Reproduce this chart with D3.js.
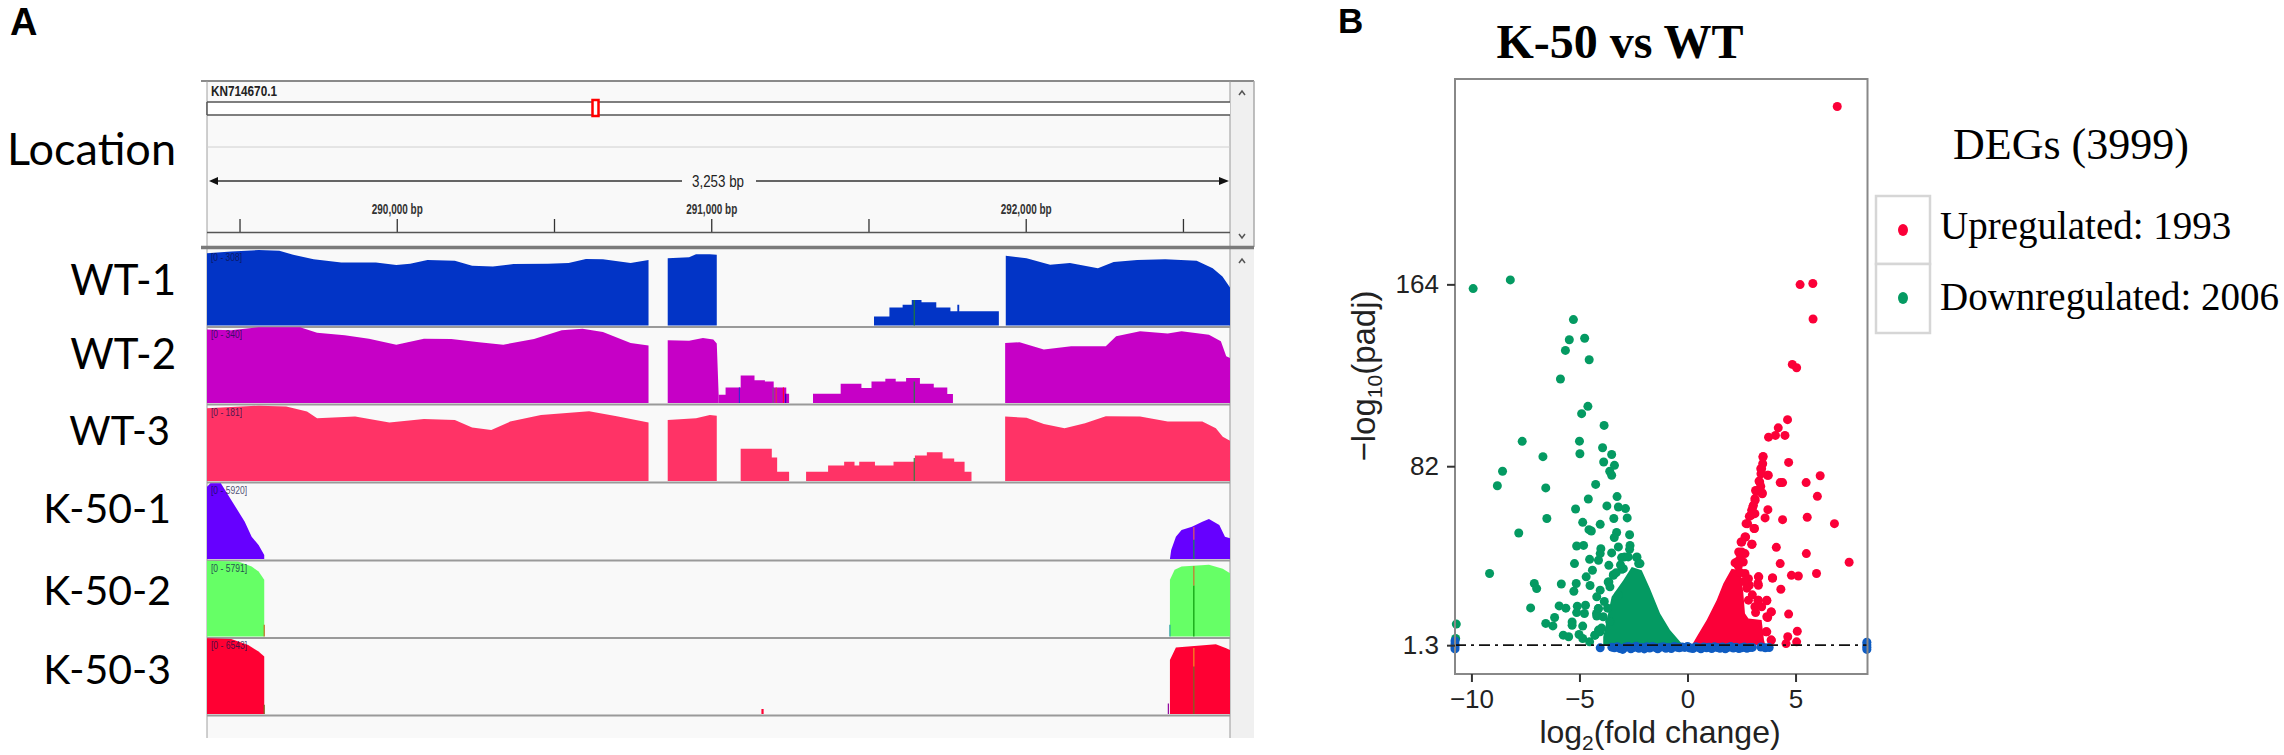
<!DOCTYPE html>
<html><head><meta charset="utf-8">
<style>html,body{margin:0;padding:0;background:#fff}svg{display:block}</style>
<script src="https://cdn.jsdelivr.net/npm/d3@7/dist/d3.min.js"></script>
</head><body><svg id="c" width="2284" height="755"></svg>
<script>
const trackNames=["WT-1","WT-2","WT-3","K-50-1","K-50-2","K-50-3"];
const trackRanges=[308,340,181,5920,5791,6543];
const trackColors=["#0234c6","#c600c6","#ff3366","#6600ff","#66ff66","#ff0033"];
const bpTicks=[289500,290000,290500,291000,291500,292000,292500];
const bpLabelled=[290000,291000,292000];
// coverage blocks: [bp, depth]
const wt1=[
 {step:0,p:[[289395,294],[289472,301],[289559,307],[289625,304],[289669,288],[289734,270],[289822,256],[289932,256],[289997,246],[290041,251],[290096,267],[290183,263],[290238,243],[290304,240],[290370,250],[290479,251],[290545,254],[290600,271],[290654,270],[290742,254],[290799,267]]},
 {step:0,p:[[290860,274],[290928,278],[290950,290],[290994,290],[291016,288]]},
 {step:1,p:[[291516,37],[291565,73],[291607,84],[291636,104],[291667,95],[291714,73],[291759,58],[291781,84],[291787,58],[291913,58]]},
 {step:0,p:[[291935,284],[292001,274],[292076,247],[292139,254],[292228,233],[292278,258],[292353,267],[292442,270],[292542,263],[292593,233],[292624,199],[292648,155]]}];
const wt2=[
 {step:0,p:[[289395,330],[289472,327],[289559,340],[289691,340],[289745,315],[289833,304],[289910,289],[289997,262],[290085,289],[290172,288],[290260,273],[290337,262],[290435,288],[290523,327],[290589,334],[290654,319],[290742,270],[290799,258]]},
 {step:0,p:[[290860,282],[290928,280],[290972,292],[291005,285],[291016,267],[291022,37]]},
 {step:1,p:[[291022,37],[291044,70],[291092,123],[291136,102],[291169,97],[291197,70],[291237,42],[291246,42]]},
 {step:1,p:[[291322,42],[291410,87],[291476,67],[291508,97],[291552,109],[291585,97],[291618,112],[291662,87],[291706,70],[291749,40],[291767,40]]},
 {step:0,p:[[291933,270],[291979,273],[292056,240],[292143,255],[292253,255],[292286,300],[292362,322],[292450,312],[292494,322],[292581,307],[292619,277],[292636,210],[292648,202]]}];
const wt3=[
 {step:0,p:[[289395,174],[289559,180],[289647,178],[289713,166],[289745,150],[289866,154],[289975,140],[290085,148],[290183,146],[290238,128],[290299,122],[290359,142],[290457,158],[290610,167],[290698,155],[290799,140]]},
 {step:0,p:[[290860,146],[290950,150],[290994,158],[291016,156]]},
 {step:1,p:[[291092,77],[291191,56],[291208,22],[291246,22]]},
 {step:1,p:[[291300,22],[291370,37],[291421,46],[291454,37],[291469,46],[291519,37],[291578,46],[291646,61],[291684,69],[291734,54],[291771,46],[291804,22],[291826,22]]},
 {step:0,p:[[291933,154],[292001,151],[292056,136],[292122,126],[292187,138],[292253,155],[292362,154],[292450,142],[292560,142],[292603,126],[292625,106],[292648,96]]}];
const k1=[
 {step:0,p:[[289395,5659],[289406,5920],[289439,5920],[289472,4616],[289515,2921],[289537,1747],[289559,1095],[289577,313]]},
 {step:0,p:[[292457,0],[292461,704],[292476,1747],[292494,2269],[292527,2530],[292560,2921],[292581,3130],[292614,2660],[292632,1747],[292648,1617]]}];
const k2=[
 {step:0,p:[[289395,5791],[289494,5738],[289537,5355],[289559,4973],[289577,4335]]},
 {step:0,p:[[292457,4335],[292472,5100],[292494,5355],[292581,5483],[292625,5177],[292648,4845]]}];
const k3=[
 {step:0,p:[[289395,6543],[289472,6486],[289526,5970],[289559,5396],[289577,4965]]},
 {step:1,p:[[291158,430],[291165,430]]},
 {step:0,p:[[292457,4678],[292476,5740],[292515,5826],[292603,6027],[292636,5683],[292648,5539]]}];
const coverage=[wt1,wt2,wt3,k1,k2,k3];
// mismatch bars: [track, bp, from depth, to depth, colour]
const mismatches=[
 [0,291644,0,104,"#1f7a3a"],[1,291644,0,97,"#2a7a4a"],[1,291088,0,70,"#3a2ad0"],[1,291195,0,70,"#7a5a80"],[1,291205,0,70,"#e03050"],[1,291228,0,70,"#ff0030"],[1,291235,0,42,"#3000c0"],
 [2,291644,0,55,"#3a7a40"],[3,292533,0,1500,"#1a8a50"],[3,292533,1500,2500,"#e06050"],
 [4,292533,0,3900,"#0a9a0a"],[4,292533,3900,5400,"#d07030"],[4,289577,0,900,"#c07020"],[4,292457,0,900,"#20a0a0"],
 [5,292533,0,4100,"#7a6a20"],[5,292533,4100,5700,"#f09020"],[5,289577,0,800,"#7a6a20"],[5,292452,0,900,"#9000a0"]];

const upX=[6.93,5.21,5.80,5.81,4.85,5.05,4.63,4.20,3.75,4.07,4.51,3.49,4.68,3.43,3.70,6.14,3.34,4.29,4.40,5.49,3.18,3.46,6.01,3.13,3.02,3.72,2.94,3.59,4.40,5.54,2.78,3.10,6.80,2.69,2.48,2.99,4.11,2.37,5.50,2.29,4.29,7.48,5.97,4.81,5.13,3.94,3.30,3.26,4.32,3.67,3.26,3.88,3.67,4.68,3.67,5.08,3.88,4.64,4.56,5.05,
 3.50,3.48,3.39,3.40,3.74,3.31,3.39,3.15,3.46,3.12,3.05,2.97,3.12,2.86,2.71,3.08,2.66,2.51,2.97,2.51,2.66,2.43,2.20,2.58,2.66,2.82,3.28,3.28,2.86,3.93,2.82,3.28,3.67,3.12,3.43,3.87,3.71,3.63,3.87,2.35,2.45,2.60,2.75,3.00,3.15];
const upY=[244.2,163.9,164.4,148.4,127.9,126.4,103.0,99.3,95.1,95.9,95.9,86.1,83.7,80.9,77.9,77.7,74.9,74.6,74.6,74.6,70.8,69.6,68.4,66.6,63.6,62.4,59.9,58.7,57.9,59.0,56.1,53.9,56.1,50.1,47.8,46.8,45.4,43.3,42.6,38.8,38.1,38.7,33.6,32.8,32.5,31.6,32.1,29.1,26.5,21.6,21.6,16.3,14.1,15.3,7.3,7.6,3.6,5.1,2.0,2.8,
 86.4,83.1,80.9,78.6,77.9,75.3,72.9,71.1,69.9,67.4,64.4,62.1,60.6,59.4,56.1,53.9,50.1,47.8,46.8,43.3,42.6,40.3,38.4,38.8,33.6,31.3,32.1,28.3,28.3,31.6,21.6,21.6,21.3,18.6,18.6,16.3,13.8,7.3,3.6,37.0,34.0,30.0,27.0,24.0,16.0];
const downX=[-9.92,-8.20,-5.28,-5.47,-4.76,-5.65,-4.55,-5.88,-4.61,-4.90,-3.86,-7.65,-5.00,-3.93,-4.98,-3.51,-6.69,-3.88,-3.38,-8.56,-3.60,-3.51,-8.80,-4.25,-6.56,-3.26,-4.59,-5.18,-3.73,-3.20,-2.87,-6.51,-3.41,-2.79,-4.85,-4.04,-4.56,-4.45,-7.81,-3.28,-3.39,-2.68,-5.13,-4.81,-4.01,-3.20,-2.66,-3.51,-4.04,-2.68,-4.53,-4.12,-2.91,-2.34,-5.23,-3.64,-2.26,-9.16,-4.40,-3.43,-3.04,-4.69,-7.09,-6.98,-5.84,-5.15,-4.51,-3.64,-5.26,-4.04,-4.20,-5.94,-7.26,-5.10,-4.72,-5.63,-5.13,-4.77,-4.12,-6.15,-4.20,-6.56,-6.23,-5.34,-5.34,-4.85,-5.75,-5.50,-5.02,-4.12,-4.29,-4.85,-4.53,-10.70,-10.73,
 -4.21,-4.13,-4.28,-4.05,-3.90,-3.67,-3.43,-2.97,-3.05,-2.74,-2.35,-2.20,-3.59,-3.20,-3.85,-3.70,-3.98,-3.60,-3.30,-3.10];
const downY=[162.1,166.0,148.1,139.0,139.7,134.2,130.0,121.3,109.0,105.7,100.4,93.2,93.3,90.3,87.6,87.3,86.3,83.9,82.4,79.7,79.7,77.9,73.2,73.8,72.2,68.3,67.2,62.7,64.1,63.6,62.9,58.4,58.4,58.7,56.7,55.8,53.4,52.8,51.9,52.1,49.8,51.1,46.0,46.3,44.8,45.6,46.3,42.9,42.6,44.5,40.0,39.6,41.1,41.1,38.1,37.3,38.1,33.6,35.1,33.1,35.5,32.1,29.1,26.8,28.9,29.1,28.2,29.8,25.6,26.1,23.1,19.0,18.1,18.9,19.3,18.0,16.0,15.6,17.8,13.8,14.4,11.1,10.0,11.8,10.3,9.9,5.8,5.1,6.1,8.1,5.8,4.3,2.8,10.8,4.3,
 15.6,17.8,5.8,7.3,14.1,29.8,32.8,35.8,40.8,41.1,40.8,38.1,27.6,23.8,21.0,18.0,9.0,12.0,34.0,37.5];
const nsX=[-10.76,-10.76,-10.76,-10.76,-4.04,-3.50,-3.38,-3.25,-3.12,-3.00,-2.88,-2.75,-2.62,-2.50,-2.38,-2.25,-2.12,-2.00,-1.88,-1.75,-1.62,-1.50,-1.38,-1.25,-1.12,-1.00,-0.88,-0.75,-0.62,-0.50,-0.38,-0.25,-0.12,0.00,0.12,0.25,0.38,0.50,0.62,0.75,0.88,1.00,1.12,1.25,1.38,1.50,1.62,1.75,1.88,2.00,2.12,2.25,2.38,2.50,2.62,2.75,2.88,3.00,3.40,3.60,3.78,8.30,8.30,8.30,8.30];
const nsY=[3.2,1.8,0.6,-0.4,0.1,0.4,0.1,0.6,-0.2,-0.6,0.4,0.7,-0.3,0.2,0.8,-0.1,0.3,-0.4,0.6,0,0.7,0.3,-0.3,0.4,0.6,-0.1,0.3,-0.2,0.7,0.4,0.1,0.5,0.3,0.7,0,-0.2,0.6,0.3,-0.3,0.5,0.1,0.4,-0.2,0.6,0.2,-0.1,0.5,-0.3,0.3,0.7,0,0.4,-0.2,0.1,0.5,-0.1,0.2,0.3,0.5,0.1,0.2,2.6,1.4,0.4,-0.6];
const downEnvX=[-3.90,-3.51,-2.97,-2.58,-2.12,-1.74,-1.27,-0.81,-0.27,0.04];
const downEnvY=[5.0,23.1,30.6,36.6,35.1,26.8,15.6,8.1,2.0,1.3];
const upEnvX=[0.20,0.42,0.89,1.35,1.66,2.04,2.43,2.58,2.66,2.82,3.43,3.54,3.60];
const upEnvY=[1.3,5.0,12.6,21.6,29.1,35.8,35.1,25.3,15.6,13.3,12.6,3.6,1.3];
const volcanoXTicks=[-10,-5,0,5];
const volcanoYTicks=[1.3,82,164];
const legendRows=["Upregulated: 1993","Downregulated: 2006"];

const svg=d3.select("#c");
const sans="'Liberation Sans',Arial,sans-serif",serif="'Liberation Serif','Times New Roman',serif",cal="Lato,'Open Sans',sans-serif",narrow="'Liberation Sans',sans-serif";
const T=(s,x,y,f,size,o={})=>{const t=svg.append("text").attr("x",x).attr("y",y).attr("font-family",f).attr("font-size",size).attr("fill",o.fill||"#000").attr("font-weight",o.w||"normal").attr("text-anchor",o.a||"start").text(s);
  if(o.len)t.attr("textLength",o.len).attr("lengthAdjust","spacingAndGlyphs");return t;};

T("A",10,35,sans,38,{w:"bold"});
T("B",1338,33,sans,35,{w:"bold"});

// Panel A frame
const L=207,R=1230,SB=1254,TOP=81,BOT=738;
const bx=d3.scaleLinear().domain([289395,292648]).range([L,R]);
svg.append("rect").attr("x",L).attr("y",TOP).attr("width",R-L).attr("height",BOT-TOP).attr("fill","#f9f9f9");
svg.append("rect").attr("x",R).attr("y",TOP).attr("width",SB-R).attr("height",BOT-TOP).attr("fill","#f0f0f0");
const ln=(x1,y1,x2,y2,c,w)=>svg.append("line").attr("x1",x1).attr("y1",y1).attr("x2",x2).attr("y2",y2).attr("stroke",c).attr("stroke-width",w);
ln(201,TOP,SB,TOP,"#8a8a8a",2);
ln(L,TOP,L,BOT,"#a0a0a0",1);ln(R,TOP,R,BOT,"#999",1);ln(SB,TOP,SB,247,"#aaa",1.5);
T("KN714670.1",211,96,narrow,14,{w:"bold",fill:"#222",len:66});
svg.append("rect").attr("x",L).attr("y",102).attr("width",R-L).attr("height",13).attr("fill","#fff");
ln(L,102,R,102,"#555",1.5);ln(L,115,R,115,"#555",1.5);ln(L,102,L,115,"#555",1.5);
svg.append("rect").attr("x",592.5).attr("y",100).attr("width",6).attr("height",16).attr("fill","#fff").attr("stroke","#f00").attr("stroke-width",2.5);
ln(L,147,R,147,"#d0d0d0",1);
ln(212,181,682,181,"#333",1.5);ln(756,181,1226,181,"#333",1.5);
svg.append("path").attr("d","M209,181L218,177L218,185Z").attr("fill","#111");
svg.append("path").attr("d","M1229,181L1219,177L1219,185Z").attr("fill","#111");
T("3,253 bp",718,187,narrow,17,{a:"middle",fill:"#222",len:52});
bpTicks.forEach(t=>ln(bx(t),219,bx(t),232,"#333",1.3));
bpLabelled.forEach(t=>T(d3.format(",")(t)+" bp",bx(t),214,narrow,14,{a:"middle",w:"bold",fill:"#333",len:51}));
ln(L,232.5,R,232.5,"#555",1.5);
ln(201,247.5,SB,247.5,"#7a7a7a",3.5);
const chev=(y,up)=>svg.append("path").attr("d",up?`M1239,${y+2}L1242,${y-2}L1245,${y+2}`:`M1239,${y-2}L1242,${y+2}L1245,${y-2}`).attr("fill","none").attr("stroke","#555").attr("stroke-width",1.5);
chev(93,true);chev(236,false);chev(261,true);

// Tracks
const trackBottoms=[325.5,403,481,559,636.5,714];
const trackH=75.7;
const labelY=[280,354,430,508,590,669];
const labelEnd=[176,176,170,171,171,171];
const labelSize=[42,42,40,41,41,41];
T("Location",176,165,cal,45,{a:"end"});
trackNames.forEach((n,i)=>{
  const yb=trackBottoms[i];
  const y=d3.scaleLinear().domain([0,trackRanges[i]]).range([yb,yb-trackH]);
  const g=svg.append("g");
  coverage[i].forEach(b=>{
    const a=d3.area().x(d=>bx(d[0])).y0(yb).y1(d=>y(d[1])).curve(b.step?d3.curveStepAfter:d3.curveLinear);
    g.append("path").attr("d",a(b.p)).attr("fill",trackColors[i]);
  });
  mismatches.filter(m=>m[0]===i).forEach(m=>g.append("line").attr("x1",bx(m[1])).attr("x2",bx(m[1])).attr("y1",y(m[2])).attr("y2",y(m[3])).attr("stroke",m[4]).attr("stroke-width",1.2));
  ln(L,yb+1.5,R,yb+1.5,"#9a9a9a",2);
  T(`[0 - ${trackRanges[i]}]`,211,yb-trackH+11,narrow,11,{fill:"#10104a",len:i<3?31:36}).attr("opacity",.75);
  T(n,labelEnd[i],labelY[i]+15,cal,labelSize[i],{a:"end"});
});

// Panel B
T("K-50 vs WT",1620,58,serif,48,{a:"middle",w:"bold"});
const PL=1455,PR=1867.5,PT=79,PB=674;
const vx=d3.scaleLinear().domain([-10.76,8.33]).range([PL,PR]);
const vy=d3.scaleLinear().domain([-11.7,256.6]).range([PB,PT]);
const volcano=svg.append("g");
const env=(xs,ys,c)=>volcano.append("path").attr("d",d3.area().x(d=>vx(d[0])).y0(vy(1.3)).y1(d=>vy(d[1])).curve(d3.curveLinear)(xs.map((x,i)=>[x,ys[i]]))).attr("fill",c);
const dots=(xs,ys,c)=>volcano.append("g").selectAll("circle").data(xs).join("circle").attr("cx",d=>vx(d)).attr("cy",(d,i)=>vy(ys[i])).attr("r",4.5).attr("fill",c);
const GREEN="#049a62",RED="#fb0038",BLUE="#0e5cc2";
env(downEnvX,downEnvY,GREEN);env(upEnvX,upEnvY,RED);
dots(downX,downY,GREEN);dots(upX,upY,RED);dots(nsX,nsY,BLUE);
volcano.append("line").attr("x1",PL).attr("x2",PR).attr("y1",vy(1.3)).attr("y2",vy(1.3)).attr("stroke","#111").attr("stroke-width",1.6).attr("stroke-dasharray","11,5,3,5");
svg.append("rect").attr("x",PL).attr("y",PT).attr("width",PR-PL).attr("height",PB-PT).attr("fill","none").attr("stroke","#888").attr("stroke-width",2);
const ax=svg.append("g").attr("transform",`translate(0,${PB})`).call(d3.axisBottom(vx).tickValues(volcanoXTicks).tickSize(8).tickPadding(8).tickFormat(d=>d<0?"\u2212"+(-d):d));
const ay=svg.append("g").attr("transform",`translate(${PL},0)`).call(d3.axisLeft(vy).tickValues(volcanoYTicks).tickSize(8).tickPadding(8).tickFormat(d=>String(d)));
[ax,ay].forEach(a=>{a.select(".domain").remove();a.selectAll("line").attr("stroke","#333").attr("stroke-width",2);a.selectAll("text").attr("font-family",sans).attr("font-size",26).attr("fill","#222");});
const xt=svg.append("text").attr("x",1660).attr("y",743).attr("text-anchor","middle").attr("font-family",sans).attr("font-size",32).attr("fill","#222");
xt.append("tspan").text("log");xt.append("tspan").attr("dy",7).attr("font-size",21).text("2");xt.append("tspan").attr("dy",-7).text("(fold change)");
const yt=svg.append("text").attr("transform","translate(1375,376) rotate(-90)").attr("text-anchor","middle").attr("font-family",sans).attr("font-size",33).attr("fill","#222");
yt.append("tspan").text("\u2212log");yt.append("tspan").attr("dy",7).attr("font-size",21).text("10");yt.append("tspan").attr("dy",-7).text("(padj)");

// Legend
T("DEGs (3999)",1953,159,serif,44);
const rowTops=[196,264],rowH=[68,69],rowBase=[239,310],legendColors=[RED,GREEN];
legendRows.forEach((s,i)=>{
  svg.append("rect").attr("x",1876).attr("y",rowTops[i]).attr("width",54).attr("height",rowH[i]).attr("fill","#fff").attr("stroke","#d6d6d6").attr("stroke-width",2.5);
  svg.append("ellipse").attr("cx",1903).attr("cy",rowTops[i]+34).attr("rx",5).attr("ry",6).attr("fill",legendColors[i]);
  T(s,1940,rowBase[i],serif,39);
});
</script></body></html>
